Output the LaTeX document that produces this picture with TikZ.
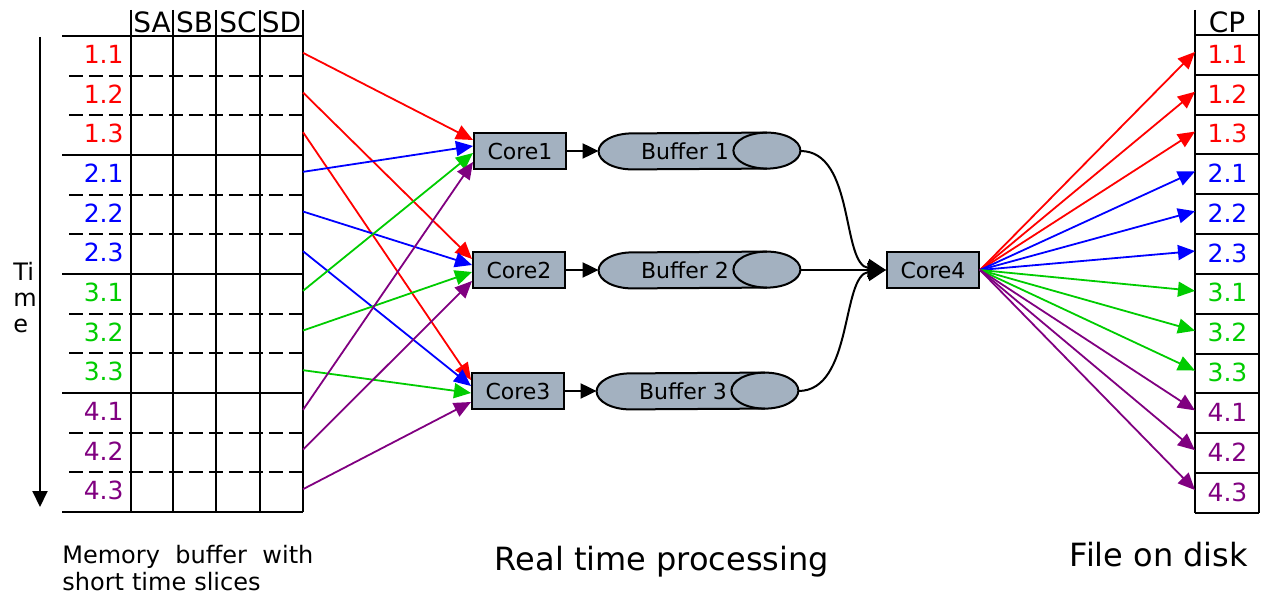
\documentclass[tikz,border=0pt]{standalone}
\usepackage{fontspec}
\setmainfont{DejaVu Sans}
\usetikzlibrary{arrows.meta,calc}
\definecolor{boxgray}{RGB}{163,177,192}
\definecolor{slicegreen}{RGB}{0,204,0}
\definecolor{slicepurple}{RGB}{128,0,128}
\tikzset{
  tabline/.style={line width=1pt},
  slicedash/.style={dash pattern=on 7pt off 3pt},
  colhead/.style={inner sep=0pt,font=\fontsize{14}{16}\selectfont},
  slicelbl/.style={inner sep=0pt,font=\fontsize{12.5}{14}\selectfont},
  corebox/.style={draw,line width=1pt,fill=boxgray,minimum width=46pt,minimum height=18pt,inner sep=0pt,font=\fontsize{11}{13}\selectfont},
  bufspot/.style={minimum width=100.5pt,minimum height=18pt,inner sep=0pt},
  feed/.style={line width=0.9pt,-{Triangle[length=8.5pt,width=7.5pt]}},
  flow/.style={line width=1pt,-{Triangle[length=8pt,width=7.5pt]}},
}
% cylinder lying on its side, drawn round a named node
\newcommand\drawbuffer[1]{%
  \filldraw[line width=1pt,fill=boxgray] ($(#1.north east)+(-33.5,0)$)
    arc[start angle=90,end angle=-90,x radius=16.75pt,y radius=9pt]
    -- ($(#1.south west)+(33.5,0)$)
    arc[start angle=270,end angle=90,x radius=16.75pt,y radius=9pt] -- cycle;
  \draw[line width=1pt] ($(#1.north east)+(-33.5,0)$)
    arc[start angle=90,end angle=270,x radius=16.75pt,y radius=9pt];}
\begin{document}
\begin{tikzpicture}[x=0.5pt,y=-0.5pt]
  \useasboundingbox (0,0) rectangle (1266,599);

  % memory buffer
  \foreach \cx/\lbl in {152/SA,194.5/SB,238/SC,281.5/SD}
    \node[colhead] (hd\lbl) at (\cx,22) {\lbl};
  \foreach \x in {131,173,216,260,303}
    \draw[tabline] (\x,10) -- (\x,512);
  \draw[tabline] (62,36) -- (303,36);
  \foreach \g/\col in {1/red,2/blue,3/slicegreen,4/slicepurple}{
    \foreach \s in {1,2,3}{
      \pgfmathsetmacro\rw{3*(\g-1)+\s}
      \pgfmathsetmacro\yc{36+39.67*(\rw-0.5)}
      \pgfmathsetmacro\yl{36+39.67*\rw}
      \node[slicelbl,text=\col,anchor=east] (m\g\s) at (124,\yc-1.5) {\g.\s};
      \coordinate (sd\g\s) at (303,\yc-3);
      \ifnum\s<3
        \draw[tabline,slicedash] (69,\yl) -- (303,\yl);
      \else
        \draw[tabline] (62,\yl) -- (303,\yl);
      \fi
    }
  }
  \coordinate (tstart) at (40,37);
  \coordinate (tend) at (40,507);
  \draw[line width=1pt,-{Triangle[length=8pt,width=7.5pt]}] (tstart) -- (tend);
  \node[anchor=north west,align=left,inner sep=0pt,font=\fontsize{12}{13}\selectfont] (timelbl) at (13,262) {Ti\\m\\e};

  % file on disk
  \node[colhead] (hdCP) at (1227,22) {CP};
  \draw[tabline] (1195,10) -- (1195,513);
  \draw[tabline] (1259,10) -- (1259,513);
  \draw[tabline] (1195,35) -- (1259,35);
  \foreach \g/\col in {1/red,2/blue,3/slicegreen,4/slicepurple}{
    \foreach \s in {1,2,3}{
      \pgfmathsetmacro\rw{3*(\g-1)+\s}
      \pgfmathsetmacro\yc{35+39.83*(\rw-0.5)}
      \pgfmathsetmacro\yl{35+39.83*\rw}
      \node[slicelbl,text=\col] (cp\g\s) at (1227.5,\yc-1) {\g.\s};
      \coordinate (cpin\g\s) at (1195,\yc-3);
      \draw[tabline] (1195,\yl) -- (1259,\yl);
    }
  }

  % cores and buffers
  \node[corebox] (core1) at (520,151) {Core1};
  \node[corebox] (core2) at (519,270) {Core2};
  \node[corebox] (core3) at (518,391) {Core3};
  \node[corebox] (core4) at (933,270) {Core4};
  \foreach \i/\bx/\by in {1/699.5/151,2/699.5/270,3/697.5/391}{
    \node[bufspot] (buf\i) at (\bx,\by) {};
    \drawbuffer{buf\i}
    \node[inner sep=0pt,font=\fontsize{11}{13}\selectfont] (buf\i txt) at ($(buf\i.center)+(-14.5,0)$) {Buffer \i};
    \draw[flow] (core\i) -- (buf\i);
  }
  \draw[flow,-{Triangle[length=9pt,width=9pt]}] (buf1.east) .. controls +(55,0) and +(-45,-5) .. (core4.west);
  \draw[flow,-{Triangle[length=9pt,width=9pt]}] (buf2.east) -- (core4.west);
  \draw[flow,-{Triangle[length=9pt,width=9pt]}] (buf3.east) .. controls +(55,0) and +(-45,5) .. (core4.west);

  % slices to cores and to disk
  \foreach \g/\col/\dy in {1/red/-11,2/blue/-5,3/slicegreen/2,4/slicepurple/11}{
    \foreach \s in {1,2,3}{
      \draw[feed,\col] (sd\g\s) -- ($(core\s.west)+(0,\dy)$);
      \draw[feed,\col] (core4.east) -- (cpin\g\s);
    }
  }

  \node[anchor=north west,text width=125.5pt,align=left,inner sep=0pt,font=\fontsize{12}{13.5}\selectfont] (memlbl) at (62,545) {Memory\hfill buffer\hfill with\\short time slices};
  \node[inner sep=0pt,font=\fontsize{16}{18}\selectfont] (rtlbl) at (662,562) {Real time processing};
  \node[inner sep=0pt,font=\fontsize{16}{18}\selectfont] (disklbl) at (1159,555) {File on disk};
\end{tikzpicture}
\end{document}
